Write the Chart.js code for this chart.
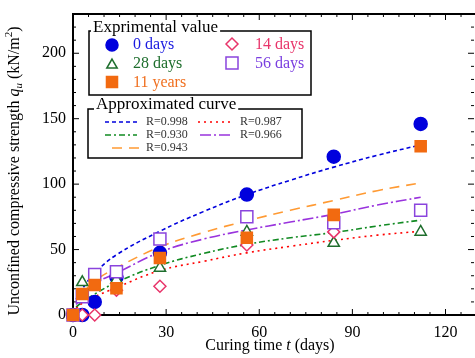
<!DOCTYPE html>
<html>
<head>
<meta charset="utf-8">
<script src="https://cdn.jsdelivr.net/npm/chart.js@4.4.1/dist/chart.umd.min.js"></script>
<style>
  html, body { margin: 0; padding: 0; background: #fff; }
  canvas { display: block; }
</style>
</head>
<body>
<canvas id="chart" width="475" height="358"></canvas>
<script>
// measured curing times (days)
const days = [0, 3, 7, 14, 28, 56, 84, 112]
const days14 = [0, 3, 7, 14, 28, 56, 84]

// unconfined compressive strength qu (kN/m2)
const qu0days = [0, 0, 10, 29, 47.5, 92, 121, 146]
const qu28days = [0, 25, 22, 27, 36, 63.5, 55, 63.5]
const qu11years = [0, 16, 23, 20.5, 43.5, 59, 76.5, 129]
const qu14days = [0, 0, 0, 19, 22, 53.5, 63.5]
const qu56days = [0, 14, 31, 33, 58, 75, 70.5, 80]

// approximated curves
const curveDays = [1, 3, 7, 14, 28, 42, 56, 70, 84, 98, 112]
const fit0days = [12, 20, 32, 46, 64, 79, 92, 103, 113, 122, 130]
const fit14days = [5, 9, 14, 21, 34, 41, 47.5, 52.5, 57, 61, 64]
const fit28days = [6, 10, 16, 25, 38, 47, 54, 59, 63, 68, 72.5]
const fit56days = [8, 14, 24, 32, 48, 58, 65, 71, 77, 84, 90]
const fit11years = [9, 16, 26, 36, 52, 63, 72, 80, 87.5, 95, 101]

const xTicks = [0, 30, 60, 90, 120]
const yTicks = [0, 50, 100, 150, 200]

const FONT = "'Liberation Serif', 'Times New Roman', serif"
const BLUE = '#0000dd'
const GREEN = '#1e6e2d'
const GREEN_LINE = '#118a22'
const ORANGE = '#f26a10'
const ORANGE_LINE = '#ff9a33'
const PINK = '#e8346a'
const PURPLE = '#8a44dd'
const PURPLE_LINE = '#9933dd'
const RED = '#ff0000'

const pts = (xs, ys) => xs.map((x, i) => ({ x: x, y: ys[i] }))

function pointSet(label, xs, ys, style, color, fill, radius, order) {
  return {
    label: label,
    data: pts(xs, ys),
    showLine: false,
    pointStyle: style,
    pointRadius: radius,
    pointHoverRadius: radius,
    pointBorderWidth: 1.5,
    pointBorderColor: color,
    pointBackgroundColor: fill,
    clip: false,
    order: order
  }
}

function curveSet(label, ys, color, dash, width) {
  return {
    label: label,
    data: pts(curveDays, ys),
    showLine: true,
    borderColor: color,
    borderWidth: width,
    borderDash: dash,
    pointRadius: 0,
    tension: 0.4,
    fill: false,
    order: 10
  }
}

const dash = {
  d998: [4, 3],
  d987: [2, 4],
  d930: [6, 3, 2, 3],
  d966: [11, 3, 2, 3],
  d943: [10, 7]
}

// frame with inward ticks on all four sides
const framePlugin = {
  id: 'frame',
  beforeDatasetsDraw(chart) {
    const { ctx, chartArea: a, scales } = chart
    ctx.save()
    ctx.strokeStyle = '#000'
    ctx.lineWidth = 1
    for (let v = 0; v <= 130; v += 5) {
      const px = scales.x.getPixelForValue(v)
      if (px > a.right - 1) break
      const len = v % 30 === 0 ? 6 : 3
      ctx.beginPath()
      ctx.moveTo(px, a.bottom); ctx.lineTo(px, a.bottom - len)
      ctx.moveTo(px, a.top); ctx.lineTo(px, a.top + len)
      ctx.stroke()
    }
    for (let v = 0; v <= 230; v += 10) {
      const py = scales.y.getPixelForValue(v)
      const len = v % 50 === 0 ? 6 : 3
      ctx.beginPath()
      ctx.moveTo(a.left, py); ctx.lineTo(a.left + len, py)
      ctx.moveTo(a.right - 1, py); ctx.lineTo(a.right - 1 - len, py)
      ctx.stroke()
    }
    ctx.lineWidth = 2
    ctx.strokeRect(a.left, a.top, a.right - a.left + 2, a.bottom - a.top)
    ctx.restore()
  }
}

function marker(ctx, style, x, y, radius, color, fill) {
  ctx.save()
  ctx.strokeStyle = color
  ctx.fillStyle = fill
  ctx.lineWidth = 1.5
  Chart.helpers.drawPoint(ctx, { pointStyle: style, radius: radius, rotation: 0, borderWidth: 1.5 }, x, y)
  ctx.restore()
}

function sample(ctx, x1, x2, y, color, d, w) {
  ctx.save()
  ctx.strokeStyle = color
  ctx.lineWidth = w
  ctx.setLineDash(d)
  ctx.beginPath()
  ctx.moveTo(x1, y); ctx.lineTo(x2, y)
  ctx.stroke()
  ctx.restore()
}

function boxWithTitle(ctx, x, y, w, h, title, tx, ty, size) {
  ctx.save()
  ctx.strokeStyle = '#000'
  ctx.lineWidth = 1.5
  ctx.strokeRect(x, y, w, h)
  ctx.font = size + 'px ' + FONT
  const tw = ctx.measureText(title).width
  ctx.fillStyle = '#fff'
  ctx.fillRect(tx - 2, y - 3, tw + 4, 6)
  ctx.fillStyle = '#000'
  ctx.textBaseline = 'middle'
  ctx.fillText(title, tx, ty)
  ctx.restore()
}

const legendPlugin = {
  id: 'legends',
  afterDraw(chart) {
    const ctx = chart.ctx

    // experimental values
    boxWithTitle(ctx, 89, 31, 222, 64, 'Exprimental value', 93, 28, 17)
    ctx.save()
    ctx.font = '16px ' + FONT
    ctx.textBaseline = 'middle'
    marker(ctx, 'circle', 112, 45, 6, BLUE, BLUE)
    marker(ctx, 'triangle', 112, 65, 6, GREEN, '#fff')
    marker(ctx, 'rect', 112, 82, 7.8, ORANGE, ORANGE)
    marker(ctx, 'rectRot', 232, 44, 6, PINK, '#fff')
    marker(ctx, 'rect', 232, 63, 8.5, PURPLE, '#fff')
    ctx.fillStyle = '#1a1ae0'; ctx.fillText('0 days', 133, 45)
    ctx.fillStyle = GREEN; ctx.fillText('28 days', 133, 64)
    ctx.fillStyle = '#f07020'; ctx.fillText('11 years', 133, 83)
    ctx.fillStyle = PINK; ctx.fillText('14 days', 255, 45)
    ctx.fillStyle = '#7a3ee0'; ctx.fillText('56 days', 255, 64)
    ctx.restore()

    // approximated curves
    boxWithTitle(ctx, 88, 109, 214, 49, 'Approximated curve', 96, 105, 17)
    sample(ctx, 105, 137, 122, BLUE, dash.d998, 1.5)
    sample(ctx, 198, 230, 122, RED, dash.d987, 1.5)
    sample(ctx, 105, 137, 135, GREEN_LINE, dash.d930, 1.5)
    sample(ctx, 200, 230, 135, PURPLE_LINE, dash.d966, 1.5)
    sample(ctx, 112, 139, 148, ORANGE_LINE, dash.d943, 1.5)
    ctx.save()
    ctx.font = '12px ' + FONT
    ctx.fillStyle = '#333'
    ctx.textBaseline = 'middle'
    ctx.fillText('R=0.998', 146, 122)
    ctx.fillText('R=0.987', 240, 122)
    ctx.fillText('R=0.930', 146, 135)
    ctx.fillText('R=0.966', 240, 135)
    ctx.fillText('R=0.943', 146, 148)
    ctx.restore()

    // axis titles with italic symbols
    drawRich(ctx, [
      { t: 'Curing time ', f: '16px ' + FONT },
      { t: 't', f: 'italic 16px ' + FONT },
      { t: ' (days)', f: '16px ' + FONT }
    ], 270, 346, 0)
    drawRich(ctx, [
      { t: 'Unconfined compressive strength ', f: '16px ' + FONT },
      { t: 'q', f: 'italic 16px ' + FONT },
      { t: 'u', f: 'italic 11px ' + FONT, dy: 4 },
      { t: ' (kN/m', f: '16px ' + FONT },
      { t: '2', f: '11px ' + FONT, dy: -6 },
      { t: ')', f: '16px ' + FONT }
    ], 15, 171, -Math.PI / 2)
  }
}

function drawRich(ctx, parts, cx, cy, rot) {
  ctx.save()
  ctx.translate(cx, cy)
  ctx.rotate(rot)
  ctx.fillStyle = '#000'
  ctx.textBaseline = 'middle'
  let total = 0
  parts.forEach(p => { ctx.font = p.f; p.w = ctx.measureText(p.t).width; total += p.w })
  let x = -total / 2
  parts.forEach(p => {
    ctx.font = p.f
    ctx.fillText(p.t, x, p.dy || 0)
    x += p.w
  })
  ctx.restore()
}

new Chart(document.getElementById('chart'), {
  type: 'scatter',
  data: {
    datasets: [
      curveSet('R=0.998', fit0days, BLUE, dash.d998, 1.6),
      curveSet('R=0.987', fit14days, RED, dash.d987, 1.6),
      curveSet('R=0.930', fit28days, GREEN_LINE, dash.d930, 1.6),
      curveSet('R=0.966', fit56days, PURPLE_LINE, dash.d966, 1.6),
      curveSet('R=0.943', fit11years, ORANGE_LINE, dash.d943, 1.6),
      pointSet('0 days', days, qu0days, 'circle', BLUE, BLUE, 6.5, 6),
      pointSet('28 days', days, qu28days, 'triangle', GREEN, '#fff', 6.5, 5),
      pointSet('14 days', days14, qu14days, 'rectRot', PINK, '#fff', 6, 4),
      pointSet('56 days', days, qu56days, 'rect', PURPLE, '#fff', 8.5, 3),
      pointSet('11 years', days, qu11years, 'rect', ORANGE, ORANGE, 7.8, 1)
    ]
  },
  options: {
    responsive: false,
    devicePixelRatio: 1,
    animation: false,
    layout: { autoPadding: false, padding: { top: 14, right: 0, left: 0, bottom: 0 } },
    plugins: {
      legend: { display: false },
      tooltip: { enabled: false }
    },
    scales: {
      x: {
        type: 'linear',
        min: 0,
        max: 129.5,
        grid: { display: false, drawTicks: false },
        border: { display: false },
        afterBuildTicks: s => { s.ticks = xTicks.map(v => ({ value: v })) },
        afterFit: s => { s.height = 43; s.paddingLeft = 0; s.paddingRight = 0 },
        ticks: {
          color: '#000',
          padding: 8,
          maxRotation: 0,
          font: { family: FONT, size: 16 }
        }
      },
      y: {
        type: 'linear',
        min: 0,
        max: 230,
        grid: { display: false, drawTicks: false },
        border: { display: false },
        afterBuildTicks: s => { s.ticks = yTicks.map(v => ({ value: v })) },
        afterFit: s => { s.width = 73; s.paddingTop = 0; s.paddingBottom = 0 },
        ticks: {
          color: '#000',
          padding: 7,
          font: { family: FONT, size: 16 }
        }
      }
    }
  },
  plugins: [framePlugin, legendPlugin]
})
</script>
</body>
</html>
